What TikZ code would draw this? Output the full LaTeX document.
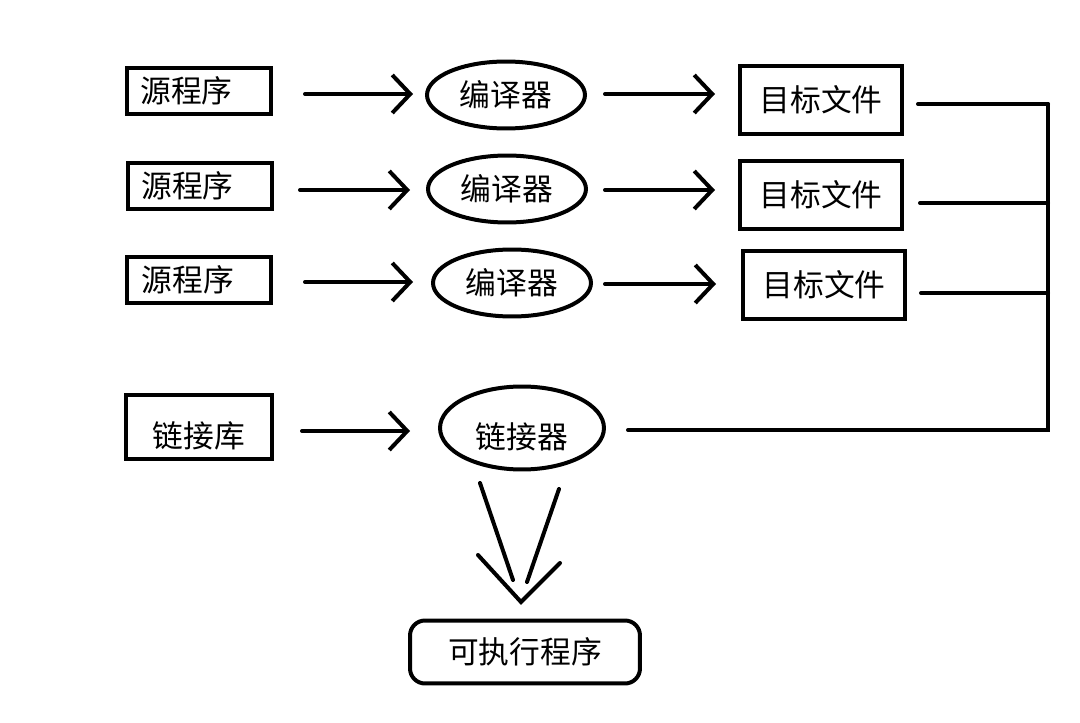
\documentclass[tikz,border=0pt]{standalone}
\usepackage{fontspec}
\newfontfamily\cjk{Noto Sans CJK SC}
\usetikzlibrary{arrows.meta}
\usetikzlibrary{shapes.geometric}

\begin{document}
\begin{tikzpicture}[x=0.02cm, y=-0.02cm, line width=0.08cm, line cap=round,
  font=\cjk\fontsize{17.5}{20}\selectfont,
  srcbox/.style={draw, rectangle, minimum width=2.88cm, minimum height=0.94cm, inner sep=0pt},
  objbox/.style={draw, rectangle, minimum width=3.26cm, minimum height=1.36cm, inner sep=0pt},
  tool/.style={draw, ellipse, minimum width=3.16cm, minimum height=1.34cm, inner sep=0pt},
  flow/.style={-{Straight Barb[length=3.6mm, width=7.6mm, line width=0.08cm]}}]
\useasboundingbox (0,0) rectangle (1080,723);
% three source files
\node[srcbox] (src1) at (199,91) {源程序\hspace*{0.5cm}};
\node[srcbox] (src2) at (200,186) {源程序\hspace*{0.5cm}};
\node[srcbox] (src3) at (199,280) {源程序\hspace*{0.45cm}};
\node[tool] (cc1) at (506,95) {编译器};
\node[tool] (cc2) at (507,189) {编译器};
\node[tool] (cc3) at (512,283) {编译器};
\node[objbox] (obj1) at (821,100) {目标文件};
\node[objbox] (obj2) at (821,195) {目标文件};
\node[objbox] (obj3) at (824,285) {目标文件};
% linking
\node[srcbox, minimum width=2.92cm, minimum height=1.3cm] (lib) at (199,427) {\rule{0pt}{1.45em}链接库};
\node[tool, minimum width=3.28cm, minimum height=1.66cm] (ld) at (522,428) {\rule{0pt}{1.4em}链接器};
\node[draw, rounded corners=0.3cm, minimum width=4.6cm, minimum height=1.26cm] (exe) at (525,652) {可执行程序};

\draw[flow] (305,94) -- (413,94);
\draw[flow] (605,94) -- (715,94);
\draw[flow] (300,190) -- (410,190);
\draw[flow] (605,190) -- (715,190);
\draw[flow] (305,282) -- (413,282);
\draw[flow] (605,284) -- (716,284);
\draw[flow] (302,431) -- (410,431);

% object files to the linker
\coordinate (bus) at (1048,104);
\draw (918,104) -- (bus);
\draw (920,203) -- (1048,203);
\draw (921,293) -- (1048,293);
\draw (bus) -- (1048,430) -- (628,430);

% linker output
\coordinate (tip) at (521,602);
\draw (480,483) -- (513,580);
\draw (559,489) -- (527,582);
\draw (478,555) -- (tip) -- (560,563);
\end{tikzpicture}
\end{document}
